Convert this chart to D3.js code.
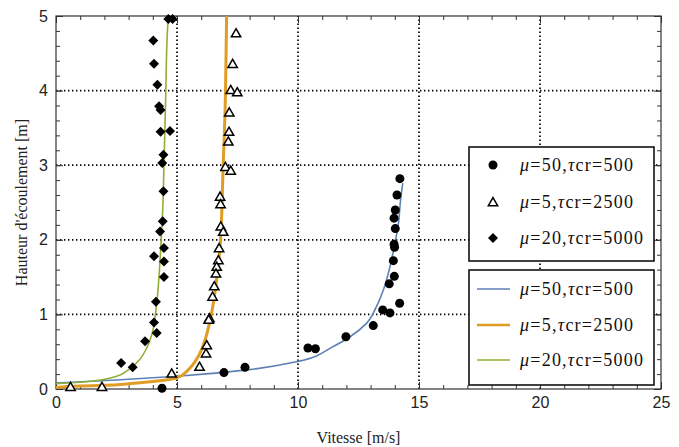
<!DOCTYPE html>
<html>
<head>
<meta charset="utf-8">
<script src="https://cdn.jsdelivr.net/npm/d3@7"></script>
<style>
  body { margin: 0; background: #fff; }
  .domain { display: none; }
</style>
</head>
<body>
<svg id="chart" width="679" height="447"></svg>
<script>
// measured points [vitesse, hauteur]
var circlePts = [[14.21,2.82],[14.09,2.60],[14.02,2.40],[13.97,2.29],[14.02,2.15],[13.97,1.94],
  [13.99,1.90],[13.94,1.72],[13.98,1.51],[13.77,1.41],[14.20,1.15],[13.50,1.06],[13.80,1.02],
  [13.11,0.85],[11.98,0.70],[10.41,0.55],[10.72,0.54],[7.81,0.29],[6.94,0.22],[4.38,0.01]];
var trianglePts = [[7.44,4.77],[7.30,4.36],[7.22,4.01],[7.49,3.98],[7.16,3.71],[7.15,3.45],
  [7.12,3.32],[7.00,2.98],[7.22,2.93],[6.78,2.58],[6.80,2.48],[6.81,2.18],[6.91,2.11],
  [6.74,1.89],[6.71,1.73],[6.64,1.64],[6.61,1.55],[6.54,1.38],[6.47,1.24],[6.34,0.95],
  [6.31,0.93],[6.23,0.59],[6.20,0.48],[5.93,0.30],[4.78,0.21],[0.6,0.03],[1.9,0.03]];
var diamondPts = [[4.64,4.96],[4.82,4.96],[4.02,4.67],[4.05,4.36],[4.19,4.08],[4.26,3.79],
  [4.32,3.74],[4.32,3.45],[4.71,3.46],[4.44,3.14],[4.39,3.03],[4.44,2.65],[4.41,2.25],
  [4.30,2.11],[4.46,1.89],[4.05,1.78],[4.46,1.71],[4.46,1.50],[4.13,1.17],[4.05,0.89],
  [4.16,0.75],[3.68,0.64],[2.69,0.35],[3.17,0.29]];

// model curves
var curveBlue = [[0,0.08],[2.5,0.12],[5,0.17],[8,0.26],[10,0.37],[11.46,0.57],[12.15,0.70],
  [12.83,0.88],[13.25,1.11],[13.53,1.33],[13.80,1.64],[14.01,1.96],[14.15,2.22],[14.24,2.54],[14.33,2.76]];
var curveOrange = [[0,0.02],[1,0.04],[2,0.05],[3,0.07],[4,0.10],[5,0.15],[5.5,0.27],[5.9,0.45],
  [6.16,0.66],[6.43,1.02],[6.64,1.47],[6.78,1.91],[6.85,2.36],[6.89,2.81],[6.93,3.2],[6.98,3.65],
  [7.02,4.32],[7.05,5.0]];
var curveGreen = [[0,0.07],[1,0.09],[2,0.13],[2.5,0.17],[3,0.26],[3.47,0.40],[3.75,0.55],
  [3.95,0.72],[4.16,1.15],[4.30,1.73],[4.37,2.14],[4.41,2.40],[4.46,2.98],[4.53,3.88],[4.60,4.77],[4.64,5.0]];

var xTicks = [0, 5, 10, 15, 20, 25];
var yTicks = [0, 1, 2, 3, 4, 5];
var legendLabels = [["50", "500"], ["5", "2500"], ["20", "5000"]];
var colors = ["#5e81b5", "#e19c24", "#8fb032"];

var svg = d3.select("#chart");
var margins = { top: 16, bottom: 58, left: 56, right: 18 };
var width = 679, height = 447;

var x = d3.scaleLinear().domain([0, 25]).range([margins.left, width - margins.right]);
var y = d3.scaleLinear().domain([0, 5]).range([height - margins.bottom, margins.top]);

// grid
var grid = svg.append("g").attr("stroke", "#000").attr("stroke-width", 1.7)
  .attr("stroke-dasharray", "1.4,2.6");
grid.selectAll(".gx").data(xTicks.slice(1, -1)).enter().append("line")
  .attr("x1", function(d) { return x(d); }).attr("x2", function(d) { return x(d); })
  .attr("y1", y(0)).attr("y2", y(5));
grid.selectAll(".gy").data(yTicks.slice(1, -1)).enter().append("line")
  .attr("x1", x(0)).attr("x2", x(25))
  .attr("y1", function(d) { return y(d); }).attr("y2", function(d) { return y(d); });

// axes: major + minor ticks, inward on all sides
var minorX = d3.range(0, 26, 1), minorY = d3.range(0, 5.01, 0.2);
function addAxis(axis, tr, cls) {
  var g = svg.append("g").attr("class", cls).attr("transform", tr).call(axis);
  g.selectAll("line").attr("stroke", "#333");
  g.selectAll("text").style("font-family", "'Liberation Sans', Arial, sans-serif")
    .style("font-size", "16px").style("fill", "#222");
}
addAxis(d3.axisBottom(x).tickValues(minorX).tickSize(-4).tickFormat(""), "translate(0," + y(0) + ")", "xm");
addAxis(d3.axisBottom(x).tickValues(xTicks).tickSizeInner(-7).tickPadding(8).tickFormat(d3.format("d")),
  "translate(0," + y(0) + ")", "xaxis");
addAxis(d3.axisTop(x).tickValues(minorX).tickSize(-4).tickFormat(""), "translate(0," + y(5) + ")", "xt");
addAxis(d3.axisTop(x).tickValues(xTicks).tickSize(-7).tickFormat(""), "translate(0," + y(5) + ")", "xt2");
addAxis(d3.axisLeft(y).tickValues(minorY).tickSize(-4).tickFormat(""), "translate(" + x(0) + ",0)", "ym");
addAxis(d3.axisLeft(y).tickValues(yTicks).tickSizeInner(-7).tickPadding(8).tickFormat(d3.format("d")),
  "translate(" + x(0) + ",0)", "yaxis");
addAxis(d3.axisRight(y).tickValues(minorY).tickSize(-4).tickFormat(""), "translate(" + x(25) + ",0)", "yr");
addAxis(d3.axisRight(y).tickValues(yTicks).tickSize(-7).tickFormat(""), "translate(" + x(25) + ",0)", "yr2");

svg.append("rect").attr("x", x(0)).attr("y", y(5))
  .attr("width", x(25) - x(0)).attr("height", y(0) - y(5))
  .attr("fill", "none").attr("stroke", "#333").attr("stroke-width", 1.2);

// curves
svg.append("clipPath").attr("id", "clip").append("rect")
  .attr("x", x(0)).attr("y", y(5)).attr("width", x(25) - x(0)).attr("height", y(0) - y(5));
var line = d3.line().x(function(d) { return x(d[0]); }).y(function(d) { return y(d[1]); })
  .curve(d3.curveMonotoneY);
var lineW = [1.6, 3, 1.6];
[curveBlue, curveOrange, curveGreen].forEach(function(c, i) {
  svg.append("path").datum(c).attr("d", line).attr("clip-path", "url(#clip)")
    .attr("fill", "none").attr("stroke", colors[i]).attr("stroke-width", lineW[i]);
});

// points
var tri = d3.symbol().type(d3.symbolTriangle).size(38);
var dia = d3.symbol().type(d3.symbolSquare).size(50);
svg.selectAll(".circ").data(circlePts).enter().append("circle")
  .attr("cx", function(d) { return x(d[0]); }).attr("cy", function(d) { return y(d[1]); })
  .attr("r", 4.5).attr("fill", "#000");
svg.selectAll(".tri").data(trianglePts).enter().append("path")
  .attr("d", tri)
  .attr("transform", function(d) { return "translate(" + x(d[0]) + "," + (y(d[1]) + 1) + ")"; })
  .attr("fill", "#fff").attr("stroke", "#000").attr("stroke-width", 1.5);
svg.selectAll(".dia").data(diamondPts).enter().append("path")
  .attr("d", dia)
  .attr("transform", function(d) { return "translate(" + x(d[0]) + "," + y(d[1]) + ") rotate(45)"; })
  .attr("fill", "#000");

// legends
function legendText(g, lbl, tx, ty) {
  var t = g.append("text").attr("x", tx).attr("y", ty)
    .attr("font-family", "'Liberation Serif', 'Times New Roman', serif").attr("font-size", 18)
    .attr("fill", "#111")
    .attr("textLength", lbl[0].length > 1 && lbl[1].length > 3 ? 123 : 113)
    .attr("lengthAdjust", "spacing");
  t.append("tspan").attr("font-style", "italic").text("μ");
  t.append("tspan").text("=" + lbl[0] + ",");
  t.append("tspan").attr("font-style", "italic").text("τ");
  t.append("tspan").text("cr=" + lbl[1]);
}
var lg1 = svg.append("g");
lg1.append("rect").attr("x", 469).attr("y", 147).attr("width", 185).attr("height", 114)
  .attr("fill", "#fff").attr("stroke", "#111").attr("stroke-width", 1.6);
var lg2 = svg.append("g");
lg2.append("rect").attr("x", 469).attr("y", 270).attr("width", 185).attr("height", 115)
  .attr("fill", "#fff").attr("stroke", "#111").attr("stroke-width", 1.6);

var rows1 = [165, 202, 238], rows2 = [289, 325, 360];
legendLabels.forEach(function(lbl, i) {
  legendText(lg1, lbl, 520, rows1[i] + 6);
  legendText(lg2, lbl, 520, rows2[i] + 6);
  lg2.append("line").attr("x1", 477).attr("x2", 510).attr("y1", rows2[i]).attr("y2", rows2[i])
    .attr("stroke", colors[i]).attr("stroke-width", lineW[i] === 3 ? 2.6 : 1.6);
});
lg1.append("circle").attr("cx", 493).attr("cy", rows1[0]).attr("r", 4.5).attr("fill", "#000");
lg1.append("path").attr("d", tri).attr("transform", "translate(493," + (rows1[1] + 1) + ")")
  .attr("fill", "#fff").attr("stroke", "#000").attr("stroke-width", 1.5);
lg1.append("path").attr("d", dia).attr("transform", "translate(493," + rows1[2] + ") rotate(45)")
  .attr("fill", "#000");

// axis titles
svg.append("text").attr("x", (x(0) + x(25)) / 2).attr("y", 443).attr("text-anchor", "middle")
  .attr("font-family", "'Liberation Serif', 'Times New Roman', serif").attr("font-size", 16)
  .attr("fill", "#222").text("Vitesse [m/s]");
svg.append("text").attr("transform", "translate(27," + ((y(0) + y(5)) / 2) + ") rotate(-90)")
  .attr("text-anchor", "middle")
  .attr("font-family", "'Liberation Serif', 'Times New Roman', serif").attr("font-size", 16)
  .attr("fill", "#222").text("Hauteur d'écoulement [m]");
</script>
</body>
</html>
